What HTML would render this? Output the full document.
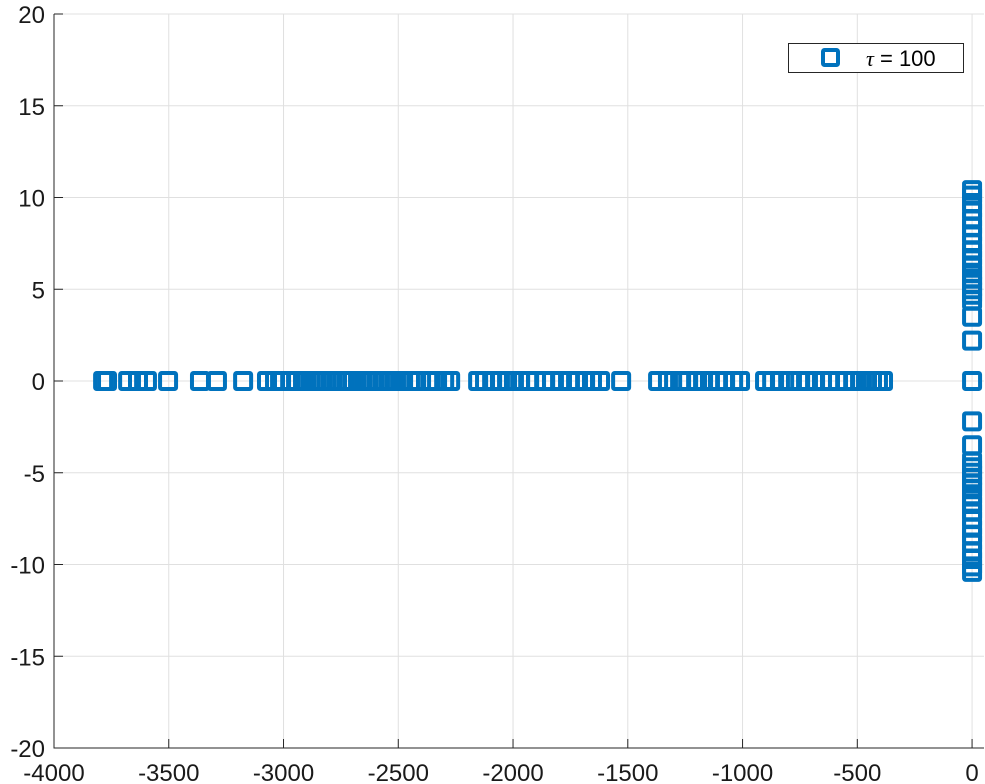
<!DOCTYPE html>
<html><head><meta charset="utf-8"><style>
body{margin:0;background:#fff;width:985px;height:784px;overflow:hidden}
svg{display:block;font-family:"Liberation Sans",Helvetica,sans-serif}
</style></head><body>
<svg id="chart" width="985" height="784" xmlns="http://www.w3.org/2000/svg"></svg>
<script>
const xTicks=[-4000,-3500,-3000,-2500,-2000,-1500,-1000,-500,0];
const yTicks=[-20,-15,-10,-5,0,5,10,15,20];
const realX=[-3786,-3769,-3677,-3634,-3595,-3503,-3364,-3290,-3176,-3072,-3037,-3015,-2971,-2941,-2915,-2884,-2858,-2832,-2797,-2771,-2745,-2719,-2697,-2666,-2640,-2614,-2588,-2562,-2536,-2510,-2479,-2449,-2422,-2361,-2331,-2300,-2274,-2152,-2122,-2091,-2057,-2026,-1996,-1969,-1934,-1900,-1860,-1830,-1795,-1752,-1717,-1686,-1656,-1621,-1529,-1368,-1325,-1272,-1237,-1198,-1172,-1142,-1107,-1076,-1041,-1011,-902,-871,-837,-793,-749,-715,-684,-654,-619,-584,-553,-518,-488,-462,-436,-410,-388];
const imagY=[10.4,10.1,9.7,9.3,8.8,8.4,8.0,7.5,7.1,6.7,6.3,5.9,5.6,5.3,5.0,4.7,4.4,3.5,2.2,0,-2.2,-3.5,-4.4,-4.7,-5.0,-5.3,-5.6,-5.9,-6.3,-6.7,-7.1,-7.5,-8.0,-8.4,-8.8,-9.3,-9.7,-10.1,-10.4];
const L=54,R=984,T=14,B=748,XMIN=-4000,XMAX=52,YMIN=-20,YMAX=20;
const sx=v=>L+(v-XMIN)/(XMAX-XMIN)*(R-L);
const sy=v=>B-(v-YMIN)/(YMAX-YMIN)*(B-T);
const svg=document.getElementById('chart');
const NS='http://www.w3.org/2000/svg';
function mk(t,a){const e=document.createElementNS(NS,t);for(const k in a)e.setAttribute(k,a[k]);svg.appendChild(e);return e;}
xTicks.forEach(v=>{
 const g=mk('line',{x1:sx(v),x2:sx(v),y1:T,y2:B,stroke:'#e0e0e0','stroke-width':1});
 
 
 const tk=mk('line',{x1:sx(v),x2:sx(v),y1:B,y2:B-9,stroke:'#262626','stroke-width':1});
 
 
 const t=mk('text',{x:sx(v),y:B+33,'text-anchor':'middle','font-size':24,fill:'#1a1a1a'});
 t.textContent=v;
 
 
});
yTicks.forEach(v=>{
 const g=mk('line',{x1:L,x2:R,y1:sy(v),y2:sy(v),stroke:'#e0e0e0','stroke-width':1});
 
 
 const tk=mk('line',{x1:L,x2:L+9,y1:sy(v),y2:sy(v),stroke:'#262626','stroke-width':1});
 
 
 const t=mk('text',{x:L-9,y:sy(v)+9,'text-anchor':'end','font-size':24,fill:'#1a1a1a'});
 t.textContent=v;
 
 
});
const ax=mk('path',{d:`M${L},${T}V${B}H${R}`,fill:'none',stroke:'#262626','stroke-width':1});


function marker(x,y){
 const r=mk('rect',{x:x-8,y:y-8,width:16,height:16,fill:'none',stroke:'#0072BD','stroke-width':4,rx:1.5});
 
 
}
realX.forEach(v=>marker(sx(v),sy(0)));
imagY.forEach(v=>marker(sx(0),sy(v)));
const lb=mk('rect',{x:788.5,y:43.5,width:175,height:29,fill:'#fff',stroke:'#262626','stroke-width':1});


const lm=mk('rect',{x:823,y:50,width:15,height:15,fill:'none',stroke:'#0072BD','stroke-width':4,rx:1.5});


const lt=mk('text',{x:866,y:66,'font-size':22,fill:'#000'});
lt.innerHTML='<tspan font-family="Liberation Serif" font-style="italic">τ</tspan> = 100';


</script>
</body></html>
